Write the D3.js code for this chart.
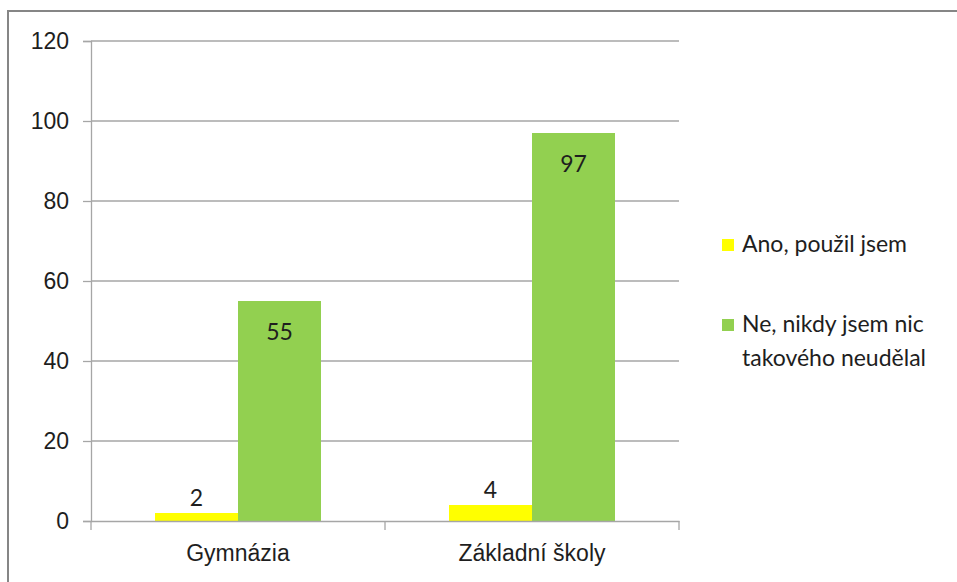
<!DOCTYPE html>
<html>
<head>
<meta charset="utf-8">
<script src="https://cdn.jsdelivr.net/npm/d3@7"></script>
<style>
  body { margin: 0; background: #fff; }
  svg { display: block; font-family: Lato, "Open Sans", sans-serif; }
</style>
</head>
<body>
<svg id="chart" width="957" height="582"></svg>
<script>
const categories = ['Gymnázia', 'Základní školy'];
const seriesNames = ['Ano, použil jsem', 'Ne, nikdy jsem nic takového neudělal'];
const anoValues = [2, 4];
const neValues = [55, 97];
const yTicks = [0, 20, 40, 60, 80, 100, 120];
const colors = ['#ffff00', '#92d050'];

const svg = d3.select('#chart');
const plot = { left: 91, right: 679, top: 41, bottom: 521 };
const textColor = '#1e1e1e';
const gridColor = '#a6a6a6';
const fontSize = '23px';

// outer frame of the chart object
svg.append('rect')
  .attr('x', 8).attr('y', 11)
  .attr('width', 980).attr('height', 600)
  .attr('fill', '#fff')
  .attr('stroke', '#868686')
  .attr('stroke-width', 2);

const x = d3.scaleBand()
  .domain(categories)
  .range([plot.left, plot.right])
  .paddingInner(0)
  .paddingOuter(0);

const groupPad = 64;
const xSeries = d3.scaleBand()
  .domain(d3.range(seriesNames.length))
  .range([groupPad, x.bandwidth() - groupPad]);

const y = d3.scaleLinear()
  .domain([0, 120])
  .range([plot.bottom, plot.top]);

// gridlines
svg.append('g')
  .selectAll('line')
  .data(yTicks.filter(d => d > 0))
  .enter()
  .append('line')
  .attr('x1', plot.left)
  .attr('x2', plot.right)
  .attr('y1', d => y(d))
  .attr('y2', d => y(d))
  .attr('stroke', gridColor)
  .attr('stroke-width', 1.3);

// y axis
const yAxis = svg.append('g')
  .attr('transform', `translate(${plot.left},0)`)
  .call(d3.axisLeft(y).tickValues(yTicks).tickSize(8).tickPadding(14));
yAxis.select('.domain').attr('stroke', gridColor).attr('stroke-width', 1.3);
yAxis.selectAll('.tick line').attr('stroke', gridColor).attr('stroke-width', 1.3);
yAxis.selectAll('.tick text')
  .attr('fill', textColor)
  .style('font-size', fontSize);

// bars
const rows = categories.map((c, i) => ({ category: c, values: [anoValues[i], neValues[i]] }));

const groups = svg.append('g')
  .selectAll('g')
  .data(rows)
  .enter()
  .append('g')
  .attr('transform', d => `translate(${x(d.category)},0)`);

groups.selectAll('rect')
  .data(d => d.values.map((v, s) => ({ v, s })))
  .enter()
  .append('rect')
  .attr('x', d => xSeries(d.s))
  .attr('width', xSeries.bandwidth())
  .attr('y', d => y(d.v))
  .attr('height', d => y(0) - y(d.v))
  .attr('fill', d => colors[d.s]);

// data labels: small values above, large values inside the top
groups.selectAll('text')
  .data(d => d.values.map((v, s) => ({ v, s })))
  .enter()
  .append('text')
  .attr('x', d => xSeries(d.s) + xSeries.bandwidth() / 2)
  .attr('y', d => d.v < 10 ? y(d.v) - 7 : y(d.v) + 39)
  .attr('text-anchor', 'middle')
  .attr('fill', textColor)
  .style('font-size', fontSize)
  .text(d => d.v);

// x axis
const xAxis = svg.append('g')
  .attr('transform', `translate(0,${plot.bottom})`)
  .call(d3.axisBottom(x).tickSize(0).tickPadding(24));
xAxis.select('.domain').attr('stroke', gridColor).attr('stroke-width', 1.3);
xAxis.selectAll('.tick text')
  .attr('fill', textColor)
  .style('font-size', fontSize);

// category separators
svg.append('g')
  .selectAll('line')
  .data(x.domain().map(d => x(d)).concat([plot.right]))
  .enter()
  .append('line')
  .attr('x1', d => d).attr('x2', d => d)
  .attr('y1', plot.bottom).attr('y2', plot.bottom + 9)
  .attr('stroke', gridColor)
  .attr('stroke-width', 1.3);

// legend
const legend = svg.append('g').attr('transform', 'translate(722,0)');
const legendLines = [['Ano, použil jsem'], ['Ne, nikdy jsem nic', 'takového neudělal']];
const legendY = [252, 332];

legendLines.forEach((lines, i) => {
  legend.append('rect')
    .attr('x', 0)
    .attr('y', legendY[i] - 13)
    .attr('width', 12)
    .attr('height', 12)
    .attr('fill', colors[i]);
  const t = legend.append('text')
    .attr('x', 20)
    .attr('y', legendY[i])
    .attr('fill', textColor)
    .style('font-size', fontSize);
  lines.forEach((line, k) => {
    t.append('tspan')
      .attr('x', 20)
      .attr('dy', k === 0 ? 0 : 34)
      .text(line);
  });
});
</script>
</body>
</html>
